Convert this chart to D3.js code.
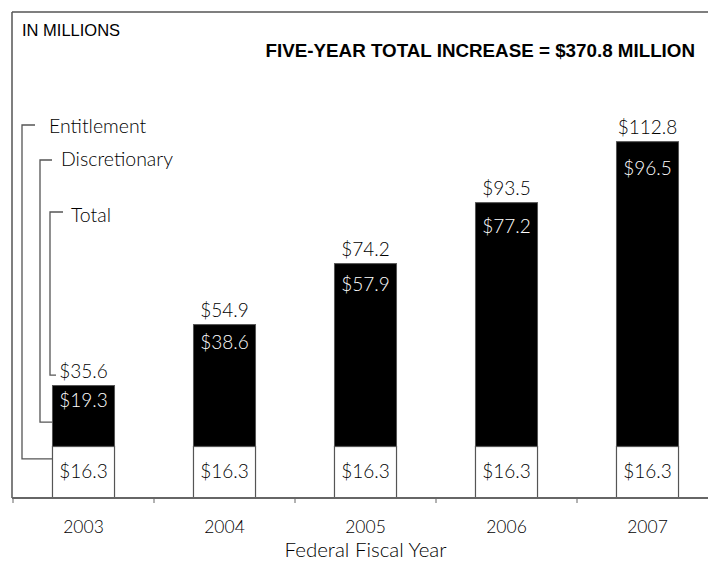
<!DOCTYPE html>
<html>
<head>
<meta charset="utf-8">
<script src="https://cdn.jsdelivr.net/npm/d3@7"></script>
<style>
  html, body { margin: 0; padding: 0; background: #fff; }
  svg { display: block; }
  .lbl { font-family: Lato, "Open Sans", sans-serif; font-weight: 300; fill: #000; }
  .hdr { font-family: "Liberation Sans", Arial, sans-serif; fill: #000; }
</style>
</head>
<body>
<svg id="chart" width="708" height="562"></svg>
<script>
// Federal fiscal years and funding components (in millions of dollars)
const years = ["2003", "2004", "2005", "2006", "2007"];
const entitlement = [16.3, 16.3, 16.3, 16.3, 16.3];
const discretionary = [19.3, 38.6, 57.9, 77.2, 96.5];
const totals = [35.6, 54.9, 74.2, 93.5, 112.8];
const headline = "FIVE-YEAR TOTAL INCREASE = $370.8 MILLION";
const unitsLabel = "IN MILLIONS";
const axisTitle = "Federal Fiscal Year";
const seriesNames = ["Entitlement", "Discretionary", "Total"];

const svg = d3.select("#chart");
const W = 708, H = 562;
const frameLeft = 12, frameTop = 12, baseY = 498;
const grey = "#555";

const x = d3.scaleBand()
  .domain(years)
  .range([13, 13 + 141 * years.length])
  .paddingInner(0.56)
  .paddingOuter(0.28);

const y = d3.scaleLinear().domain([0, 120]).range([baseY, baseY - 120 * 3.159]);

const fmt = v => "$" + d3.format(".1f")(v);

// frame: top rule and left rule
svg.append("line").attr("x1", frameLeft).attr("x2", W).attr("y1", frameTop).attr("y2", frameTop)
  .attr("stroke", grey).attr("stroke-width", 1.5);
svg.append("line").attr("x1", frameLeft).attr("x2", frameLeft).attr("y1", frameTop).attr("y2", baseY)
  .attr("stroke", grey).attr("stroke-width", 1.5);

// headers
svg.append("text").attr("class", "hdr").attr("x", 22).attr("y", 36)
  .attr("font-size", 16.5).text(unitsLabel);
svg.append("text").attr("class", "hdr").attr("x", 695).attr("y", 56.5)
  .attr("text-anchor", "end").attr("font-size", 18.8).attr("font-weight", "bold").text(headline);

const rows = years.map((yr, i) => ({
  year: yr, ent: entitlement[i], disc: discretionary[i], total: totals[i]
}));

const g = svg.append("g");

// discretionary (black) segments
g.selectAll("rect.disc").data(rows).join("rect")
  .attr("class", "disc")
  .attr("x", d => x(d.year))
  .attr("width", x.bandwidth())
  .attr("y", d => y(d.ent + d.disc))
  .attr("height", d => y(d.ent) - y(d.ent + d.disc))
  .attr("fill", "#000")
  .attr("stroke", grey).attr("stroke-width", 1);

// entitlement (white) segments
g.selectAll("rect.ent").data(rows).join("rect")
  .attr("class", "ent")
  .attr("x", d => x(d.year))
  .attr("width", x.bandwidth())
  .attr("y", d => y(d.ent))
  .attr("height", d => y(0) - y(d.ent))
  .attr("fill", "#fff")
  .attr("stroke", grey).attr("stroke-width", 1.2);

const cx = d => x(d.year) + x.bandwidth() / 2;

// totals above bars
g.selectAll("text.tot").data(rows).join("text")
  .attr("class", "lbl tot")
  .attr("x", cx).attr("y", d => y(d.total) - 8)
  .attr("text-anchor", "middle").attr("font-size", 19)
  .text(d => fmt(d.total));

// discretionary values inside black segments
g.selectAll("text.dv").data(rows).join("text")
  .attr("class", "lbl dv")
  .attr("x", cx)
  .attr("y", d => {
    const top = y(d.ent + d.disc);
    const h = y(d.ent) - top;
    return top + 19 + 0.048 * h;
  })
  .attr("text-anchor", "middle").attr("font-size", 19)
  .style("fill", "#fff")
  .text(d => fmt(d.disc));

// entitlement values inside white segments
g.selectAll("text.ev").data(rows).join("text")
  .attr("class", "lbl ev")
  .attr("x", cx).attr("y", d => (y(d.ent) + y(0)) / 2 + 6)
  .attr("text-anchor", "middle").attr("font-size", 19)
  .text(d => fmt(d.ent));

// baseline axis with ticks at band boundaries
svg.append("line").attr("x1", frameLeft).attr("x2", W).attr("y1", baseY).attr("y2", baseY)
  .attr("stroke", "#666").attr("stroke-width", 2);
const step = x.step();
const bounds = d3.range(years.length + 1).map(i => 13 + step * i);
svg.selectAll("line.tk").data(bounds).join("line")
  .attr("class", "tk")
  .attr("x1", d => d).attr("x2", d => d)
  .attr("y1", baseY).attr("y2", baseY + 5)
  .attr("stroke", "#666").attr("stroke-width", 1);

// year labels
svg.selectAll("text.yr").data(rows).join("text")
  .attr("class", "lbl yr")
  .attr("x", cx).attr("y", 533)
  .attr("text-anchor", "middle").attr("font-size", 17.5)
  .text(d => d.year);

svg.append("text").attr("class", "lbl")
  .attr("x", (13 + 13 + step * years.length) / 2).attr("y", 557)
  .attr("text-anchor", "middle").attr("font-size", 20.5)
  .text(axisTitle);

// legend brackets pointing into the first bar
const first = rows[0];
const barL = x(first.year);
const legend = [
  { name: seriesNames[0], lx: 22, ly: 125, end: y(first.ent * 0.76), tx: 49, ty: 133, stubEnd: 35, reach: barL },
  { name: seriesNames[1], lx: 40, ly: 160, end: y(first.ent + first.disc * 0.4), tx: 61, ty: 166, stubEnd: 52, reach: barL },
  { name: seriesNames[2], lx: 50, ly: 212, end: y(first.total) - 10.5, tx: 71, ty: 221.5, stubEnd: 63, reach: 56 }
];
const lg = svg.append("g");
lg.selectAll("path").data(legend).join("path")
  .attr("d", d => `M${d.stubEnd},${d.ly}H${d.lx}V${d.end}H${d.reach}`)
  .attr("fill", "none").attr("stroke", grey).attr("stroke-width", 1.3);
lg.selectAll("text").data(legend).join("text")
  .attr("class", "lbl")
  .attr("x", d => d.tx).attr("y", d => d.ty)
  .attr("font-size", 19.5)
  .text(d => d.name);
</script>
</body>
</html>
